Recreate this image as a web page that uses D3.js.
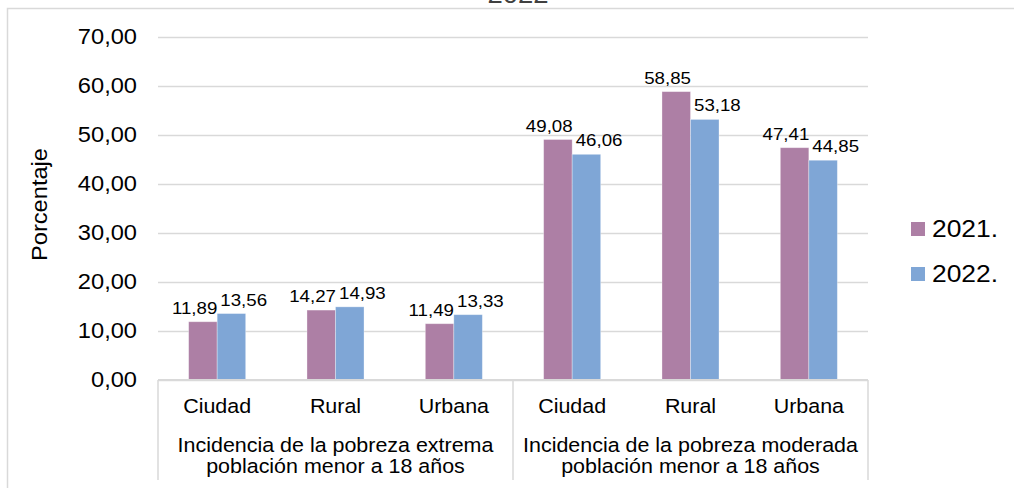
<!DOCTYPE html>
<html>
<head>
  <meta charset="utf-8">
  <script src="https://d3js.org/d3.v7.min.js"></script>
  <style>
    body { margin: 0; background: #fff; }
    svg { font-family: "Liberation Sans", Arial, sans-serif; }
  </style>
</head>
<body>
  <div id="chart"></div>
  <script>
    // Data
    const categories = ["Ciudad", "Rural", "Urbana", "Ciudad", "Rural", "Urbana"];
    const groups = [
      ["Incidencia de la pobreza extrema", "población menor a 18 años"],
      ["Incidencia de la pobreza moderada", "población menor a 18 años"]
    ];
    const seriesNames = ["2021.", "2022."];
    const values2021 = [11.89, 14.27, 11.49, 49.08, 58.85, 47.41];
    const values2022 = [13.56, 14.93, 13.33, 46.06, 53.18, 44.85];
    const yTicks = [0, 10, 20, 30, 40, 50, 60, 70];

    const colors = ["#ad7fa5", "#7fa6d6"];
    const width = 1014, height = 488;
    const margin = { top: 37, right: 146, bottom: 108, left: 158 };
    const plotW = width - margin.left - margin.right;
    const plotH = height - margin.top - margin.bottom;
    const SX = 1.1; // the source text is a bit wider than Liberation Sans

    // widen a text horizontally around its own anchor point
    function widen(sel) {
      sel.each(function() {
        const t = d3.select(this);
        const x = +t.attr("x") || 0, y = +t.attr("y") || 0;
        t.attr("transform", `translate(${x},${y}) scale(${SX},1) translate(${-x},${-y})`);
      });
    }

    const fmt = d => d3.format(".2f")(d).replace(".", ",");

    const svg = d3.select("#chart").append("svg")
      .attr("width", width)
      .attr("height", height);

    // outer chart frame (runs past right/bottom of the picture)
    svg.append("rect")
      .attr("x", 7.5).attr("y", 8.5)
      .attr("width", 1030).attr("height", 500)
      .attr("fill", "none").attr("stroke", "#d9d9d9").attr("stroke-width", 1.5);

    // title, mostly cut off at the top
    svg.append("text")
      .attr("x", 518).attr("y", 3)
      .attr("text-anchor", "middle")
      .attr("font-size", 25)
      .attr("fill", "#404040")
      .text("2022")
      .call(widen);

    const g = svg.append("g").attr("transform", `translate(${margin.left},${margin.top})`);

    const y = d3.scaleLinear().domain([0, 70]).range([plotH, 0]);
    const idx = d3.range(categories.length);
    const x0 = d3.scaleBand().domain(idx).range([0, plotW]).padding(0);
    const x1 = d3.scaleBand().domain([0, 1]).range([0, x0.bandwidth()])
      .paddingInner(0).paddingOuter(1.075);

    // gridlines
    g.append("g")
      .call(d3.axisLeft(y).tickValues(yTicks).tickSize(-plotW).tickFormat(""))
      .call(a => a.select(".domain").remove())
      .call(a => a.selectAll("line").attr("stroke", "#d9d9d9").attr("stroke-width", 1.5));

    // y tick labels
    g.append("g")
      .call(d3.axisLeft(y).tickValues(yTicks).tickSize(0).tickPadding(21).tickFormat(fmt))
      .call(a => a.select(".domain").remove())
      .call(a => a.selectAll("text").attr("font-size", 21.5).attr("fill", "#000")
        .attr("font-family", "Liberation Sans, Arial, sans-serif").call(widen));

    // y title
    svg.append("text")
      .attr("transform", `translate(47,${margin.top + plotH / 2 - 4}) rotate(-90) scale(${SX},1)`)
      .attr("text-anchor", "middle")
      .attr("font-size", 21.5)
      .text("Porcentaje");

    // bars and value labels
    const series = [values2021, values2022];
    const labels = [];
    series.forEach((vals, s) => {
      g.selectAll(".bar" + s)
        .data(vals)
        .enter().append("rect")
        .attr("x", (d, i) => x0(i) + x1(s))
        .attr("y", d => y(d))
        .attr("width", x1.bandwidth())
        .attr("height", d => plotH - y(d))
        .attr("fill", colors[s])
        .attr("stroke", "#ffffff").attr("stroke-opacity", 0.4).attr("stroke-width", 0.8);

      labels[s] = g.selectAll(".lbl" + s)
        .data(vals)
        .enter().append("text")
        .attr("x", (d, i) => x0(i) + x1(s) + x1.bandwidth() / 2 + (s === 0 ? -4 : 8))
        .attr("y", d => y(d) - 8)
        .attr("text-anchor", "middle")
        .attr("font-size", 17)
        .text(fmt);
    });

    // push the two labels of a category apart when they collide
    idx.forEach(i => {
      const a = labels[0].nodes()[i], b = labels[1].nodes()[i];
      const wa = a.getComputedTextLength() * SX, wb = b.getComputedTextLength() * SX;
      const xa = +a.getAttribute("x"), xb = +b.getAttribute("x");
      const overlap = (xa + wa / 2 + 3) - (xb - wb / 2);
      if (overlap > 0) {
        a.setAttribute("x", xa - overlap / 2);
        b.setAttribute("x", xb + overlap / 2);
      }
    });
    labels.forEach(l => l.call(widen));

    // category axis: baseline and group separators
    const axisG = g.append("g").attr("transform", `translate(0,${plotH})`);
    axisG.append("line")
      .attr("x1", 0).attr("x2", plotW)
      .attr("stroke", "#d9d9d9").attr("stroke-width", 2);
    [0, plotW / 2, plotW].forEach(xx => {
      axisG.append("line")
        .attr("x1", xx).attr("x2", xx).attr("y1", 0).attr("y2", 100)
        .attr("stroke", "#d9d9d9").attr("stroke-width", 1.5);
    });

    axisG.selectAll(".cat")
      .data(categories)
      .enter().append("text")
      .attr("x", (d, i) => x0(i) + x0.bandwidth() / 2)
      .attr("y", 33)
      .attr("text-anchor", "middle")
      .attr("font-size", 19.5)
      .text(d => d)
      .call(widen);

    groups.forEach((lines, gi) => {
      const cx = plotW / 4 + gi * plotW / 2;
      lines.forEach((t, li) => {
        axisG.append("text")
          .attr("x", cx)
          .attr("y", 72 + li * 21)
          .attr("text-anchor", "middle")
          .attr("font-size", 19.5)
          .text(t)
          .call(widen);
      });
    });

    // legend
    const legend = svg.append("g").attr("transform", "translate(911,222)");
    seriesNames.forEach((name, i) => {
      const row = legend.append("g").attr("transform", `translate(0,${i * 45})`);
      row.append("rect").attr("width", 14).attr("height", 14).attr("fill", colors[i]);
      row.append("text").attr("x", 21).attr("y", 15)
        .attr("font-size", 24).text(name).call(widen);
    });
  </script>
</body>
</html>
